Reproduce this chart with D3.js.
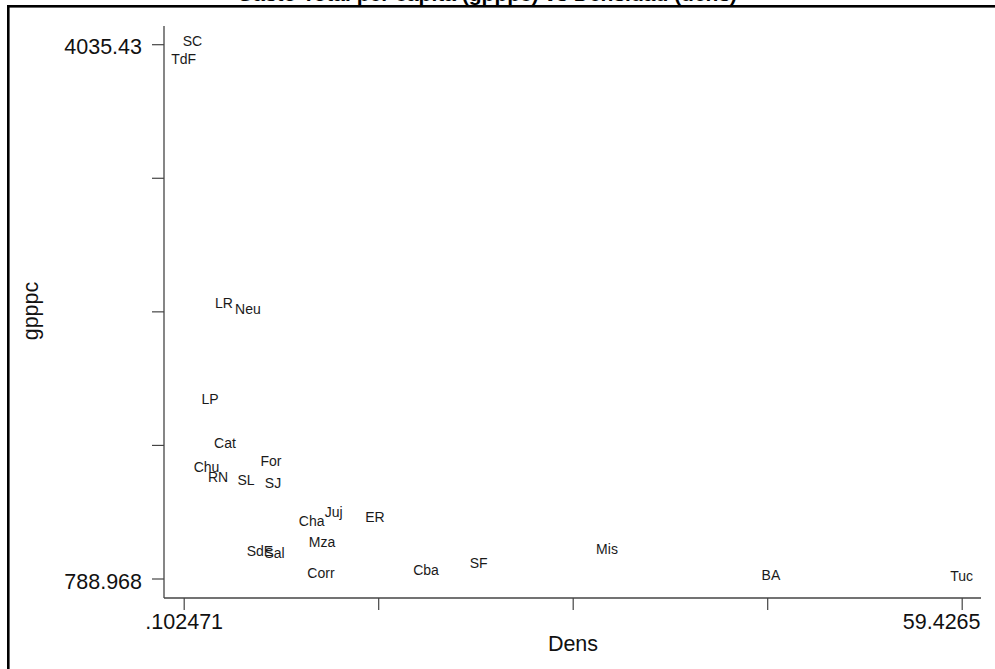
<!DOCTYPE html>
<html>
<head>
<meta charset="utf-8">
<script src="https://cdn.jsdelivr.net/npm/d3@7"></script>
<style>
  html, body { margin: 0; padding: 0; background: #fff; }
  svg { display: block; }
  text { font-family: "Liberation Sans", Arial, Helvetica, sans-serif; }
</style>
</head>
<body>
<svg id="chart" width="995" height="669"></svg>
<script>
// ---- data ----
const provinces = ["SC","TdF","LR","Neu","LP","Cat","Chu","RN","SL","For","SJ","Cha","Juj","ER","Mza","SdE","Sal","Corr","Cba","SF","Mis","BA","Tuc"];
const dens      = [0.77, 0.102471, 3.17, 5.00, 2.11, 3.25, 1.84, 2.72, 4.85, 6.76, 6.91, 9.86, 11.54, 14.69, 10.65, 5.92, 7.03, 10.57, 18.58, 22.60, 32.38, 44.88, 59.4265];
const gpppc     = [4035.43, 3926, 2446, 2408, 1863, 1594, 1448, 1387, 1371, 1484, 1353, 1118, 1175, 1144, 992, 936, 926, 802, 824, 867, 950, 795, 788.968];
const xTickValues = [0.102471, 14.933478, 29.764485, 44.595493, 59.4265];
const xTickLabels = [".102471", "", "", "", "59.4265"];
const yTickValues = [788.968, 1600.5835, 2412.199, 3223.8145, 4035.43];
const yTickLabels = ["788.968", "", "", "", "4035.43"];
const titleText = "Gasto Total per cápita (gpppc) vs Densidad (dens)";
const xTitle = "Dens";
const yTitle = "gpppc";

// ---- layout ----
const svg = d3.select("#chart");
const axisLeftX = 164, axisBottomY = 598;
const x = d3.scaleLinear().domain([0.102471, 59.4265]).range([183.7, 961.7]);
const y = d3.scaleLinear().domain([788.968, 4035.43]).range([578.5, 44.2]);

// outer frame (cropped)
svg.append("rect")
  .attr("x", 8.3).attr("y", 6.3)
  .attr("width", 1200).attr("height", 1200)
  .attr("fill", "none").attr("stroke", "#000").attr("stroke-width", 2.6);

// title, mostly cut off above the frame
svg.append("text")
  .attr("x", 487).attr("y", 0.5)
  .attr("text-anchor", "middle")
  .attr("font-size", 21).attr("font-weight", "bold")
  .attr("fill", "#000")
  .text(titleText);

// axes lines
const axisColor = "#444";
svg.append("line").attr("x1", axisLeftX).attr("x2", axisLeftX)
  .attr("y1", 26).attr("y2", axisBottomY)
  .attr("stroke", axisColor).attr("stroke-width", 1.3);
svg.append("line").attr("x1", axisLeftX).attr("x2", 981)
  .attr("y1", axisBottomY).attr("y2", axisBottomY)
  .attr("stroke", axisColor).attr("stroke-width", 1.3);

// y axis
const yAxis = d3.axisLeft(y)
  .tickValues(yTickValues)
  .tickSize(12).tickSizeOuter(0).tickPadding(10)
  .tickFormat((d, i) => yTickLabels[i]);
const gy = svg.append("g").attr("transform", `translate(${axisLeftX},0)`).call(yAxis);
gy.select(".domain").remove();
gy.selectAll(".tick line").attr("stroke", axisColor).attr("stroke-width", 1.2);
gy.selectAll(".tick text")
  .attr("font-size", 21.5).attr("fill", "#111")
  .attr("font-family", "Liberation Sans, Arial, sans-serif")
  .attr("dy", "0.45em");

// x axis
const xAxis = d3.axisBottom(x)
  .tickValues(xTickValues)
  .tickSize(12).tickSizeOuter(0).tickPadding(4)
  .tickFormat((d, i) => xTickLabels[i]);
const gx = svg.append("g").attr("transform", `translate(0,${axisBottomY})`).call(xAxis);
gx.select(".domain").remove();
gx.selectAll(".tick line").attr("stroke", axisColor).attr("stroke-width", 1.2);
gx.selectAll(".tick text")
  .attr("font-size", 21.5).attr("fill", "#111")
  .attr("font-family", "Liberation Sans, Arial, sans-serif")
  .attr("dy", "0.71em");
// keep the last tick label inside the frame (as in the reference)
gx.selectAll(".tick text").filter((d, i) => i === xTickValues.length - 1)
  .attr("text-anchor", "end")
  .attr("x", 980 - x(xTickValues[xTickValues.length - 1]));

// axis titles
svg.append("text")
  .attr("x", 573).attr("y", 651)
  .attr("text-anchor", "middle")
  .attr("font-size", 21.5).attr("fill", "#111")
  .text(xTitle);
svg.append("text")
  .attr("transform", "translate(38,311) rotate(-90)")
  .attr("text-anchor", "middle")
  .attr("font-size", 21.5).attr("fill", "#111")
  .text(yTitle);

// marker labels (no symbols)
const pts = provinces.map((p, i) => ({ p, d: dens[i], g: gpppc[i] }));
svg.append("g").selectAll("text")
  .data(pts).join("text")
  .attr("x", d => x(d.d))
  .attr("y", d => y(d.g) + 2)
  .attr("text-anchor", "middle")
  .attr("font-size", 14).attr("fill", "#1a1a1a")
  .text(d => d.p);
</script>
</body>
</html>
